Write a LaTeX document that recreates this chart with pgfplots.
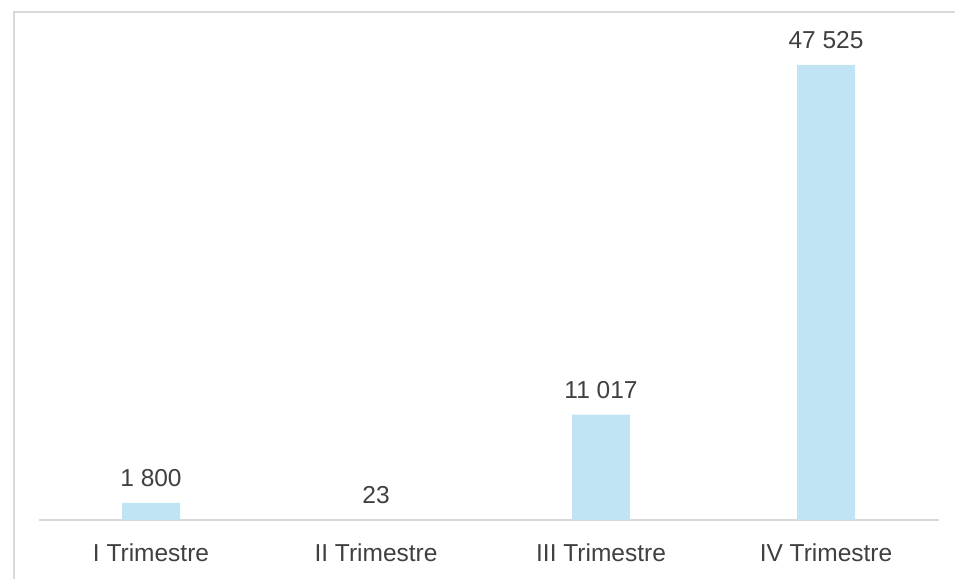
\documentclass[border=0pt]{standalone}
\usepackage{fontspec}
\setmainfont{Liberation Sans}
\usepackage{pgfplots}
\pgfplotsset{compat=1.18}
\definecolor{barblue}{HTML}{C0E4F4}
\definecolor{txt}{HTML}{404040}
\definecolor{rule}{HTML}{D9D9D9}
\begin{document}
\begin{tikzpicture}[x=1pt,y=1pt]
  \useasboundingbox (0,0) rectangle (955,579);
  % chart frame (left and top edges visible)
  \draw[rule, line width=1.5pt] (14,0) -- (14,567) -- (955,567);
  \begin{axis}[
      at={(38.5pt,59pt)}, anchor=south west,
      scale only axis, width=900pt, height=508pt,
      ybar, bar width=58pt,
      xmin=-0.5, xmax=3.5, ymin=0, ymax=53060,
      axis x line*=bottom, axis y line=none,
      x axis line style={rule, line width=1.2pt},
      xtick=data,
      xticklabels={I Trimestre, II Trimestre, III Trimestre, IV Trimestre},
      major tick length=0pt,
      xticklabel style={font=\fontsize{24.5}{28}\selectfont, text=txt,
                        inner sep=0pt, anchor=north, yshift=-24pt},
      ytick=\empty,
      /pgf/number format/.cd, 1000 sep={\ }, assume math mode=true,
      /pgfplots/.cd,
      nodes near coords,
      every node near coord/.append style={font=\fontsize{24.5}{28}\selectfont,
                        text=txt, inner sep=0pt, anchor=south, yshift=16pt},
    ]
    \addplot[fill=barblue, draw=none] coordinates {
      (0,1800) (1,23) (2,11017) (3,47525)};
  \end{axis}
\end{tikzpicture}
\end{document}
